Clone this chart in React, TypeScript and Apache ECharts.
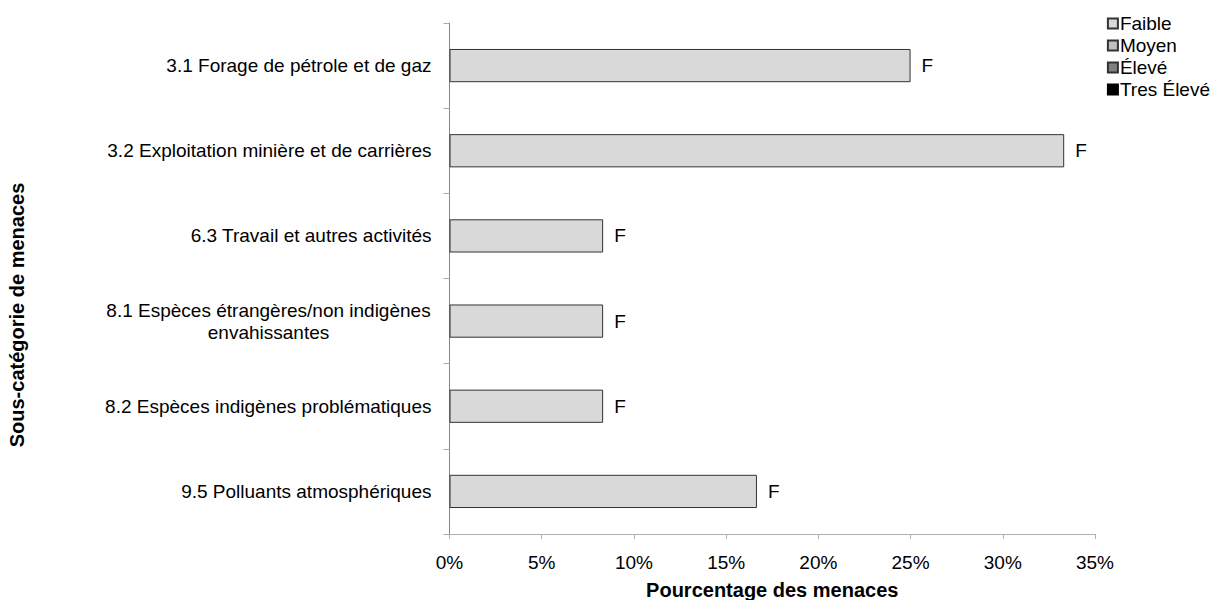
import React, { useEffect, useRef } from "react";
import * as echarts from "echarts";

const categories = [
  "3.1 Forage de pétrole et de gaz",
  "3.2 Exploitation minière et de carrières",
  "6.3 Travail et autres activités",
  "8.1 Espèces étrangères/non indigènes\nenvahissantes",
  "8.2 Espèces indigènes problématiques",
  "9.5 Polluants atmosphériques",
];
const faible = [25, 33.33, 8.33, 8.33, 8.33, 16.67];
const moyen: (number | null)[] = [null, null, null, null, null, null];
const eleve: (number | null)[] = [null, null, null, null, null, null];
const tresEleve: (number | null)[] = [null, null, null, null, null, null];
const labelF = ["F", "F", "F", "F", "F", "F"];
const xTicks = [0, 5, 10, 15, 20, 25, 30, 35];

const FONT = "'Liberation Sans', Arial, sans-serif";
const FS = 19;

export default function App() {
  const ref = useRef<HTMLDivElement>(null);
  useEffect(() => {
    if (!ref.current) return;
    const chart = echarts.init(ref.current, null, { renderer: "svg" });
    chart.setOption({
      animation: false,
      textStyle: { fontFamily: FONT },
      grid: { left: 449.5, right: 122, top: 23, bottom: 66, containLabel: false, outerBoundsMode: "none" },
      legend: {
        orient: "vertical",
        right: 2,
        top: 9,
        icon: "rect",
        itemWidth: 10,
        itemHeight: 10,
        itemGap: 3,
        textStyle: { fontFamily: FONT, fontSize: FS, color: "#000", padding: [0, 0, 0, -3] },
        data: ["Faible", "Moyen", "Élevé", "Tres Élevé"],
      },
      xAxis: {
        type: "value",
        min: xTicks[0],
        max: xTicks[xTicks.length - 1],
        interval: 5,
        name: "Pourcentage des menaces",
        nameLocation: "middle",
        nameGap: 46,
        nameTextStyle: { fontFamily: FONT, fontSize: 20, fontWeight: "bold", color: "#000" },
        axisLine: { show: true, lineStyle: { color: "#b0b0b0", width: 1 } },
        axisTick: { show: true, length: 5, lineStyle: { color: "#b0b0b0" } },
        axisLabel: { fontFamily: FONT, fontSize: FS, color: "#000", margin: 19, formatter: (v: number) => v + "%" },
        splitLine: { show: false },
      },
      yAxis: {
        type: "category",
        inverse: true,
        data: categories,
        axisLine: { show: true, lineStyle: { color: "#888888", width: 1 } },
        axisTick: { show: true, length: 6, lineStyle: { color: "#aaaaaa" } },
        axisLabel: {
          fontFamily: FONT,
          fontSize: FS,
          color: "#000",
          margin: 18,
          lineHeight: 22,
          formatter: (v: string) => {
            if (v.indexOf("\n") >= 0) {
              return v
                .split("\n")
                .map((s) => "{c|" + s + "}")
                .join("\n");
            }
            return v;
          },
          rich: {
            c: { fontFamily: FONT, fontSize: FS, color: "#000", width: 326, align: "center", lineHeight: 22 },
          },
        },
      },
      graphic: [
        {
          type: "text",
          x: 17,
          y: 315,
          rotation: Math.PI / 2,
          style: {
            text: "Sous-catégorie de menaces",
            fontFamily: FONT,
            fontSize: 20,
            fontWeight: "bold",
            fill: "#000",
            align: "center",
            verticalAlign: "middle",
          },
        },
      ],
      series: [
        {
          name: "Faible",
          type: "bar",
          stack: "s",
          barCategoryGap: "61%",
          data: faible,
          itemStyle: { color: "#d9d9d9", borderColor: "#333", borderWidth: 1 },
          label: {
            show: true,
            position: "right",
            distance: 11,
            fontFamily: FONT,
            fontSize: FS,
            color: "#000",
            formatter: (p: any) => labelF[p.dataIndex],
          },
        },
        {
          name: "Moyen",
          type: "bar",
          stack: "s",
          data: moyen,
          itemStyle: { color: "#c0c0c0", borderColor: "#333", borderWidth: 1 },
        },
        {
          name: "Élevé",
          type: "bar",
          stack: "s",
          data: eleve,
          itemStyle: { color: "#808080", borderColor: "#333", borderWidth: 1 },
        },
        {
          name: "Tres Élevé",
          type: "bar",
          stack: "s",
          data: tresEleve,
          itemStyle: { color: "#000000", borderColor: "#000", borderWidth: 1 },
        },
      ],
    });
    return () => chart.dispose();
  }, []);
  return <div ref={ref} style={{ width: 1217, height: 600, position: "absolute", left: 0, top: 0 }} />;
}
